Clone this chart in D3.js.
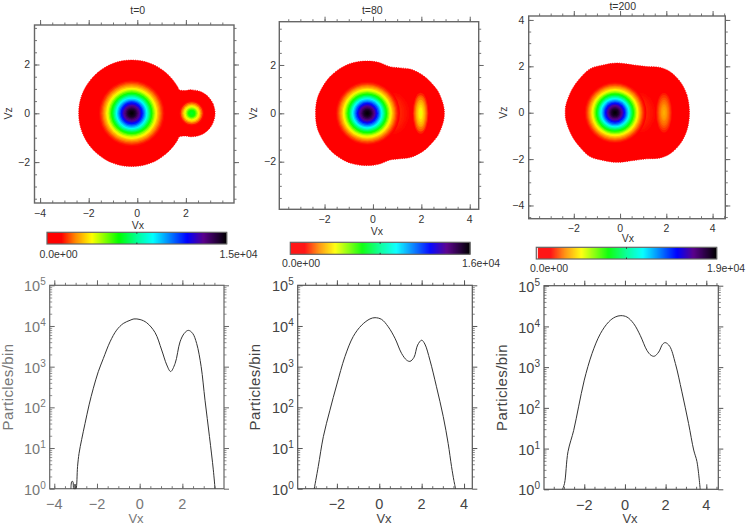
<!DOCTYPE html>
<html>
<head>
<meta charset="utf-8">
<script src="https://d3js.org/d3.v7.min.js"></script>
<style>
html,body{margin:0;padding:0;background:#fff}
svg{display:block}
text{font-family:"Liberation Sans",Arial,sans-serif}
</style>
</head>
<body>
<div id="chart"></div>
<script>
// ---- data ----
const titles = ["t=0", "t=80", "t=200"];
const colorbarLow = ["0.0e+00", "0.0e+00", "0.0e+00"];
const colorbarHigh = ["1.5e+04", "1.6e+04", "1.9e+04"];
const colorStops = [0, 0.08, 0.16, 0.25, 0.40, 0.50, 0.59, 0.78, 0.87, 1];
const colorValues = ["#ff0000", "#ff0000", "#ff8c00", "#ffff00", "#00ff00", "#00ff96", "#00ffff", "#0000ff", "#5a008c", "#000000"];

// core of the distribution: radius in velocity units and colour level
const coreRadius = [1.40,1.35,1.30,1.25,1.20,1.15,1.10,1.05,1.00,0.95,0.90,0.85,0.80,0.75,0.70,0.65,0.60,0.55,0.50,0.45,0.40,0.35,0.30,0.25,0.20,0.15,0.10,0.05];
const coreLevel  = [0.07,0.088,0.105,0.125,0.15,0.175,0.205,0.24,0.27,0.31,0.35,0.39,0.435,0.48,0.53,0.58,0.63,0.675,0.725,0.77,0.815,0.855,0.89,0.92,0.95,0.97,0.985,0.995];
const coreCenter = [-0.23, -0.235, -0.22];
const coreSpread = [1, 0.965, 0.97];

// beam feature for each time
const beamCenter = [2.24, 1.97, 1.90];
const beamRx0 = [0.55,0.50,0.45,0.40,0.35,0.30,0.25,0.20,0.15,0.10,0.05];
const beamRy0 = [0.55,0.50,0.45,0.40,0.35,0.30,0.25,0.20,0.15,0.10,0.05];
const beamLevel0 = [0.07,0.09,0.13,0.17,0.22,0.26,0.30,0.35,0.39,0.41,0.42];
const beamRx80 = [0.36,0.32,0.28,0.24,0.20,0.16,0.12,0.08,0.04];
const beamRy80 = [0.95,0.85,0.75,0.66,0.56,0.46,0.36,0.25,0.13];
const beamLevel80 = [0.08,0.10,0.13,0.15,0.18,0.20,0.22,0.24,0.26];
const beamRx200 = [0.38,0.34,0.30,0.26,0.22,0.18,0.14,0.10,0.05];
const beamRy200 = [0.95,0.85,0.76,0.66,0.56,0.46,0.36,0.26,0.13];
const beamLevel200 = [0.08,0.095,0.11,0.125,0.14,0.15,0.165,0.175,0.185];

// faint bridge next to the core (centre, rx, ry, level)
const bridge80 = [0.85, 0.50, 0.72, 0.10];
const bridge200 = [0.85, 0.52, 0.72, 0.10];

// upper half of each distribution outline, right to left (mirrored in Vz)
const outlineVx0 = [3.20,3.12,2.92,2.60,2.24,1.95,1.72,1.66,1.44,1.17,0.86,0.52,0.15,-0.23,-0.61,-0.98,-1.32,-1.63,-1.90,-2.12,-2.28,-2.38,-2.41];
const outlineVz0 = [0,0.38,0.68,0.89,0.96,0.93,0.97,1.09,1.40,1.67,1.89,2.05,2.15,2.18,2.15,2.05,1.89,1.67,1.40,1.09,0.75,0.38,0];
const outlineVx80 = [2.95,2.91,2.70,2.49,2.22,1.94,1.53,1.12,0.70,0.22,-0.23,-0.74,-1.23,-1.78,-2.19,-2.33,-2.37];
const outlineVz80 = [0,0.34,0.89,1.17,1.45,1.65,1.83,1.88,1.93,2.11,2.16,2.11,1.93,1.51,0.89,0.48,0];
const outlineVx200 = [3.00,2.89,2.60,2.16,1.73,1.15,0.58,-0.14,-0.72,-1.30,-1.73,-2.09,-2.34,-2.37];
const outlineVz200 = [0,0.76,1.34,1.77,1.95,1.99,2.06,2.14,2.06,1.89,1.49,0.98,0.33,0];

// particle histograms
const histVx0 = [-3.22,-3.18,-3.13,-3.09,-3.05,-3.03,-3.00,-2.98,-2.91,-2.84,-2.72,-2.56,-2.37,-2.17,-1.94,-1.70,-1.39,-1.08,-0.77,-0.45,-0.27,0.02,0.33,0.72,1.03,1.27,1.45,1.66,1.89,2.09,2.28,2.48,2.67,2.88,3.06,3.27,3.45,3.53];
const histN0  = [1,1.5,1.5,1,1,1.3,1,1,3.5,7.4,16,40,115,295,750,1600,4070,7900,11500,13800,14900,14400,12000,6900,2570,1100,760,1200,4070,6600,7800,6600,3700,1000,150,19,2.9,1];
const histVx80 = [-3.07,-2.88,-2.64,-2.33,-2.01,-1.62,-1.23,-0.83,-0.44,-0.20,0.11,0.42,0.74,1.05,1.29,1.45,1.64,1.81,2.00,2.15,2.39,2.70,3.02,3.25,3.41,3.52,3.60];
const histN80  = [1,3.5,19,85,355,1770,5500,10500,14900,16000,14500,9600,5000,2130,1450,1350,1700,3400,4470,3600,1450,320,59,13,3.5,1.6,1];
const histVx200 = [-3.07,-2.97,-2.80,-2.52,-2.28,-2.00,-1.62,-1.21,-0.80,-0.48,-0.20,0.10,0.43,0.75,1.08,1.28,1.44,1.66,1.85,1.98,2.20,2.48,2.80,3.13,3.38,3.54,3.70];
const histN200  = [1,1.4,8.4,28,106,480,2150,6600,12900,17000,18400,17000,11700,6050,2580,1960,1850,2350,3650,4000,3250,1230,247,41,9.2,4.8,1];

const mapXTicks = [[-4,-2,0,2],[-2,0,2,4],[-2,0,2,4]];
const mapYTicks = [[-2,0,2],[-2,0,2],[-4,-2,0,2,4]];
const histXTicks = [[-4,-2,0,2],[-2,0,2,4],[-2,0,2,4]];
const histYTicks = [1,10,100,1000,10000,100000];

// ---- layout ----
const W = 747, H = 526;
const mapLayout = [
  {x:[34.5,234],  y:[25,203],    dx:[-4.23,3.98], dy:[-3.676,3.619], title:[137.7,10.3], tickY:213,   vxY:225,   vzX:8,   yEnd:30,  vxC:138,
   bar:[47,226.7,232.3,244], barLabelY:254, lowX:58.5, highX:238.5},
  {x:[279.3,478.7],y:[21.7,209.3],dx:[-3.87,4.37], dy:[-3.97,3.79],  title:[372.3,10],   tickY:219,   vxY:231.7, vzX:253, yEnd:276, vxC:377,
   bar:[290.3,470,242.3,254.3], barLabelY:263.5, lowX:301, highX:481},
  {x:[528.7,725.3],y:[16,218.7],  dx:[-3.95,4.55], dy:[-4.57,4.17],  title:[622.7,6.3],  tickY:228.7, vxY:238.7, vzX:503, yEnd:524.3, vxC:628,
   bar:[536.3,716.7,247.3,259], barLabelY:268, lowX:549, highX:726}
];
const histLayout = [
  {x:[49.7,224],  y:[285.3,488.7], dx:[-4.215,3.95], labelColor:"#777", axisColor:"#666", ylabX:7.5, vxC:136},
  {x:[297.7,472.3],y:[285.3,488.7], dx:[-3.85,4.39], labelColor:"#444", axisColor:"#555", ylabX:255, vxC:384},
  {x:[544,718.3], y:[285.7,489.3], dx:[-3.98,4.59], labelColor:"#444", axisColor:"#555", ylabX:501.5, vxC:630}
];

const svg = d3.select("#chart").append("svg").attr("width",W).attr("height",H);
svg.append("rect").attr("width",W).attr("height",H).attr("fill","#fff");
const defs = svg.append("defs");
defs.append("filter").attr("id","soft").append("feGaussianBlur").attr("stdDeviation",3);

const colormap = d3.scaleLinear().domain(colorStops).range(colorValues).interpolate(d3.interpolateRgb);
const TEXT = "#333", FRAME = "#666";

function minorRange(a,b,step){ const out=[]; for(let v=Math.ceil(a/step)*step; v<=b+1e-9; v+=step) out.push(+v.toFixed(6)); return out; }

function styleAxis(g,color,width){
  g.select(".domain").remove();
  g.selectAll("line").attr("stroke",color).attr("stroke-width",width);
}
function linearTicks(g,x,y,xt,yt,color,major,minor){
  const [x0,x1]=x.range(), [y0,y1]=y.range();
  const xm=minorRange(...x.domain(),0.5), ym=minorRange(...y.domain(),0.5);
  [[d3.axisBottom,y0,-1],[d3.axisTop,y1,1]].forEach(([ax,pos,s])=>{
    g.append("g").attr("transform",`translate(0,${pos})`)
     .call(ax(x).tickValues(xm).tickSize(s*minor).tickFormat("")).call(styleAxis,color,0.9);
    g.append("g").attr("transform",`translate(0,${pos})`)
     .call(ax(x).tickValues(xt).tickSize(s*major).tickFormat("")).call(styleAxis,color,1);
  });
  [[d3.axisLeft,x0,-1],[d3.axisRight,x1,1]].forEach(([ax,pos,s])=>{
    g.append("g").attr("transform",`translate(${pos},0)`)
     .call(ax(y).tickValues(ym).tickSize(s*minor).tickFormat("")).call(styleAxis,color,0.9);
    g.append("g").attr("transform",`translate(${pos},0)`)
     .call(ax(y).tickValues(yt).tickSize(s*major).tickFormat("")).call(styleAxis,color,1);
  });
}

// ---- density maps ----
const outlines = [[outlineVx0,outlineVz0],[outlineVx80,outlineVz80],[outlineVx200,outlineVz200]];
const beams = [[beamRx0,beamRy0,beamLevel0],[beamRx80,beamRy80,beamLevel80],[beamRx200,beamRy200,beamLevel200]];
const bridges = [null,bridge80,bridge200];

mapLayout.forEach((L,i)=>{
  const g = svg.append("g");
  const x = d3.scaleLinear().domain(L.dx).range(L.x);
  const y = d3.scaleLinear().domain(L.dy).range([L.y[1],L.y[0]]);
  const rx = r => x(r)-x(0), ry = r => y(0)-y(r);

  const [ovx,ovz] = outlines[i];
  const upper = ovx.map((v,k)=>[v,ovz[k]]);
  const lower = upper.slice(1,-1).reverse().map(p=>[p[0],-p[1]]);
  const line = d3.line().x(d=>x(d[0])).y(d=>y(d[1])).curve(d3.curveCatmullRomClosed.alpha(0.5));
  g.append("path").attr("d",line(upper.concat(lower))).attr("fill",colormap(0))
   .attr("stroke",colormap(0)).attr("stroke-width",0.9).attr("stroke-dasharray","1 1.3");

  if(bridges[i]){
    const b=bridges[i];
    g.append("ellipse").attr("cx",x(b[0])).attr("cy",y(0)).attr("rx",rx(b[1])).attr("ry",ry(b[2]))
     .attr("fill",colormap(b[3])).attr("filter","url(#soft)");
  }
  const [brx,bry,blev]=beams[i];
  g.append("g").selectAll("ellipse").data(blev).join("ellipse")
    .attr("cx",x(beamCenter[i])).attr("cy",y(0))
    .attr("rx",(d,k)=>rx(brx[k])).attr("ry",(d,k)=>ry(bry[k]))
    .attr("fill",d=>colormap(d));
  g.append("g").selectAll("ellipse").data(coreLevel).join("ellipse")
    .attr("cx",x(coreCenter[i])).attr("cy",y(0))
    .attr("rx",(d,k)=>rx(coreRadius[k]*coreSpread[i])).attr("ry",(d,k)=>ry(coreRadius[k]*coreSpread[i]))
    .attr("fill",d=>colormap(d));

  linearTicks(g,x,y,mapXTicks[i],mapYTicks[i],FRAME,5,2.5);
  g.append("rect").attr("x",L.x[0]).attr("y",L.y[0]).attr("width",L.x[1]-L.x[0]).attr("height",L.y[1]-L.y[0])
   .attr("fill","none").attr("stroke",FRAME).attr("stroke-width",1.4);

  const fmt = d3.format("");
  g.append("g").selectAll("text").data(mapXTicks[i]).join("text")
   .attr("x",d=>x(d)).attr("y",L.tickY).attr("dy","0.36em").attr("text-anchor","middle")
   .attr("font-size",10.5).attr("fill",TEXT).text(d=>fmt(d));
  g.append("g").selectAll("text").data(mapYTicks[i]).join("text")
   .attr("x",L.yEnd).attr("y",d=>y(d)).attr("dy","0.36em").attr("text-anchor","end")
   .attr("font-size",10.5).attr("fill",TEXT).text(d=>fmt(d));
  g.append("text").attr("x",L.vxC).attr("y",L.vxY).attr("dy","0.36em").attr("text-anchor","middle")
   .attr("font-size",10.5).attr("fill",TEXT).text("Vx");
  g.append("text").attr("transform",`translate(${L.vzX},${y(0)}) rotate(-90)`).attr("dy","0.36em").attr("text-anchor","middle")
   .attr("font-size",10.5).attr("fill",TEXT).text("Vz");
  g.append("text").attr("x",L.title[0]).attr("y",L.title[1]).attr("dy","0.36em").attr("text-anchor","middle")
   .attr("font-size",10.5).attr("fill",TEXT).text(titles[i]);

  // colour bar
  const [bx0,bx1,by0,by1]=L.bar;
  const bar = d3.scaleLinear().domain([0,1]).range([bx0,bx1]);
  const cells = d3.range(0,180).map(k=>k/180);
  g.append("g").selectAll("rect").data(cells).join("rect")
   .attr("x",d=>bar(d)).attr("y",by0).attr("width",(bx1-bx0)/180+0.4).attr("height",by1-by0)
   .attr("fill",d=>colormap(d+1/360));
  if(i===2) g.append("rect").attr("x",bx0).attr("y",by0).attr("width",1.5).attr("height",by1-by0).attr("fill","#fff");
  g.append("rect").attr("x",bx0).attr("y",by0).attr("width",bx1-bx0).attr("height",by1-by0)
   .attr("fill","none").attr("stroke",FRAME).attr("stroke-width",1.2);
  g.append("line").attr("x1",bar(0.5)).attr("x2",bar(0.5)).attr("y1",by0).attr("y2",by0+1.5).attr("stroke","#333");
  g.append("line").attr("x1",bar(0.5)).attr("x2",bar(0.5)).attr("y1",by1-1.5).attr("y2",by1).attr("stroke","#333");
  g.append("text").attr("x",L.lowX).attr("y",L.barLabelY).attr("dy","0.36em").attr("text-anchor","middle")
   .attr("font-size",10.5).attr("fill",TEXT).text(colorbarLow[i]);
  g.append("text").attr("x",L.highX).attr("y",L.barLabelY).attr("dy","0.36em").attr("text-anchor","middle")
   .attr("font-size",10.5).attr("fill",TEXT).text(colorbarHigh[i]);
});

// ---- histograms ----
const hists = [[histVx0,histN0],[histVx80,histN80],[histVx200,histN200]];
histLayout.forEach((L,i)=>{
  const g = svg.append("g");
  const x = d3.scaleLinear().domain(L.dx).range(L.x);
  const y = d3.scaleLog().domain([1,100000]).range([L.y[1],L.y[0]]);
  const c = L.axisColor;

  const xm = minorRange(...L.dx,0.5);
  const logMinor = [];
  histYTicks.slice(0,-1).forEach(d=>{ d3.range(2,10).forEach(m=>logMinor.push(d*m)); });

  [[d3.axisBottom,L.y[1],-1],[d3.axisTop,L.y[0],1]].forEach(([ax,pos,s])=>{
    g.append("g").attr("transform",`translate(0,${pos})`)
     .call(ax(x).tickValues(xm).tickSize(s*2.5).tickFormat("")).call(styleAxis,c,0.9);
    g.append("g").attr("transform",`translate(0,${pos})`)
     .call(ax(x).tickValues(histXTicks[i]).tickSize(s*5).tickFormat("")).call(styleAxis,c,1);
  });
  [[d3.axisLeft,L.x[0],-1],[d3.axisRight,L.x[1],1]].forEach(([ax,pos,s])=>{
    g.append("g").attr("transform",`translate(${pos},0)`)
     .call(ax(y).tickValues(logMinor).tickSize(s*2.5).tickFormat("")).call(styleAxis,c,0.7);
    g.append("g").attr("transform",`translate(${pos},0)`)
     .call(ax(y).tickValues(histYTicks).tickSize(s*5).tickFormat("")).call(styleAxis,c,1);
  });
  g.append("rect").attr("x",L.x[0]).attr("y",L.y[0]).attr("width",L.x[1]-L.x[0]).attr("height",L.y[1]-L.y[0])
   .attr("fill","none").attr("stroke",c).attr("stroke-width",1.2);

  const [hx,hn]=hists[i];
  const line = d3.line().x((d,k)=>x(hx[k])).y(d=>y(d)).curve(d3.curveCatmullRom.alpha(0.5));
  g.append("path").attr("d",line(hn)).attr("fill","none").attr("stroke","#333").attr("stroke-width",1);

  g.append("g").selectAll("text").data(histXTicks[i]).join("text")
   .attr("x",d=>x(d)).attr("y",L.y[1]+15).attr("dy","0.36em").attr("text-anchor","middle")
   .attr("font-size",14.5).attr("fill",L.labelColor).text(d=>d3.format("")(d));

  const labs = g.append("g").selectAll("text").data(histYTicks).join("text")
   .attr("x",L.x[0]-4).attr("y",d=>y(d)).attr("text-anchor","end").attr("fill",L.labelColor);
  labs.append("tspan").attr("dy","0.42em").attr("font-size",14.5).text("10");
  labs.append("tspan").attr("dy","-0.6em").attr("font-size",10).text(d=>Math.round(Math.log10(d)));

  g.append("text").attr("x",L.vxC).attr("y",518.5).attr("dy","0.36em").attr("text-anchor","middle")
   .attr("font-size",13).attr("fill",L.labelColor).text("Vx");
  g.append("text").attr("transform",`translate(${L.ylabX},${(L.y[0]+L.y[1])/2}) rotate(-90)`).attr("dy","0.36em").attr("text-anchor","middle")
   .attr("font-size",15).attr("letter-spacing",0.4).attr("fill",L.labelColor).text("Particles/bin");
});
</script>
</body>
</html>
